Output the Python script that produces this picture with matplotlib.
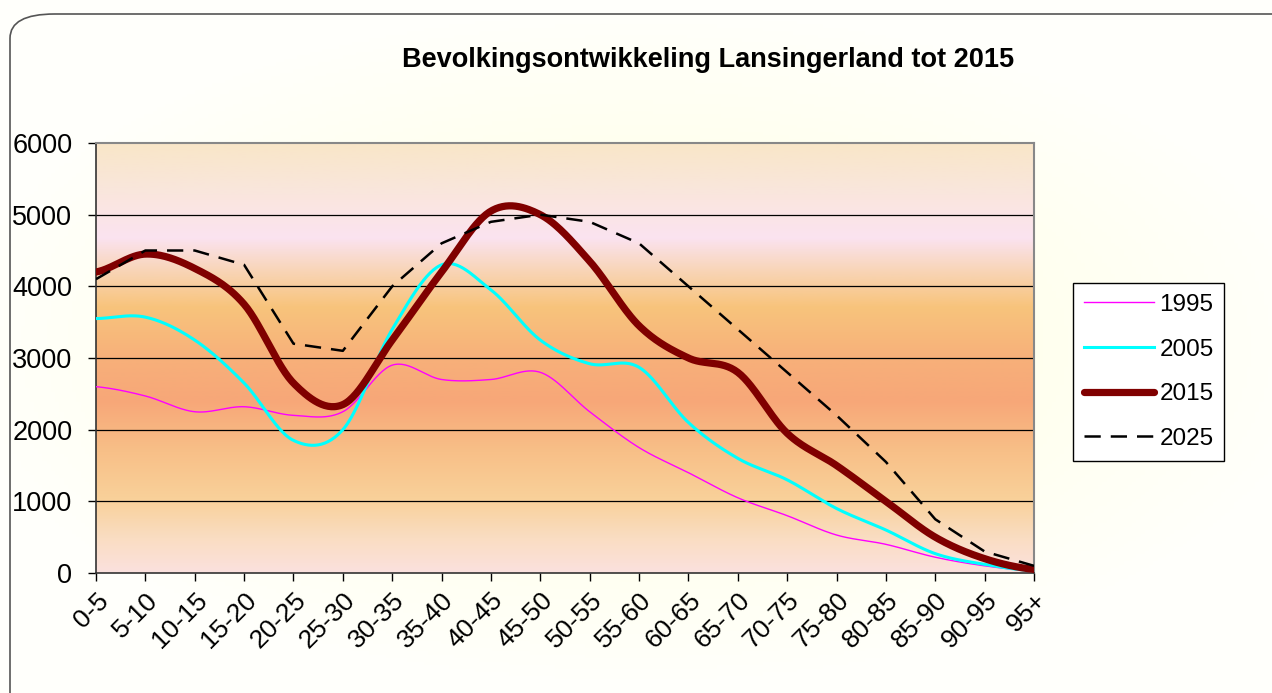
import matplotlib
matplotlib.use("Agg")
import matplotlib.pyplot as plt
from matplotlib.colors import LinearSegmentedColormap
from matplotlib.patches import FancyBboxPatch
import numpy as np

# -- Data -------------------------------------------------------------------
age_groups = ["0-5", "5-10", "10-15", "15-20", "20-25", "25-30", "30-35",
              "35-40", "40-45", "45-50", "50-55", "55-60", "60-65", "65-70",
              "70-75", "75-80", "80-85", "85-90", "90-95", "95+"]

pop_1995 = [2600, 2470, 2250, 2320, 2200, 2250, 2900, 2700, 2700, 2800,
            2250, 1750, 1400, 1050, 800, 530, 400, 220, 100, 30]
pop_2005 = [3550, 3570, 3250, 2650, 1850, 2000, 3400, 4300, 3950, 3250,
            2920, 2870, 2100, 1600, 1300, 900, 600, 270, 120, 30]
pop_2015 = [4200, 4450, 4250, 3750, 2650, 2350, 3250, 4200, 5050, 5000,
            4350, 3450, 3000, 2800, 1950, 1500, 1000, 500, 200, 50]
pop_2025 = [4100, 4500, 4500, 4300, 3200, 3100, 4000, 4600, 4900, 5000,
            4900, 4600, 4000, 3400, 2800, 2200, 1550, 750, 300, 100]

y_ticks = [0, 1000, 2000, 3000, 4000, 5000, 6000]

# -- Colours ----------------------------------------------------------------
MAGENTA = "#FF00FF"
CYAN = "#00FFFF"
DARK_RED = "#800000"
BLACK = "#000000"

plt.rcParams["font.family"] = ["Liberation Sans", "DejaVu Sans"]


def smooth(values, n=30):
    """Catmull-Rom spline through the points (Excel style smoothed line)."""
    y = np.asarray(values, dtype=float)
    x = np.arange(len(y), dtype=float)
    px = np.concatenate([[2 * x[0] - x[1]], x, [2 * x[-1] - x[-2]]])
    py = np.concatenate([[y[0]], y, [y[-1]]])
    xs, ys = [], []
    t = np.linspace(0, 1, n, endpoint=False)
    for i in range(1, len(px) - 2):
        for arr, out in ((px, xs), (py, ys)):
            p0, p1, p2, p3 = arr[i - 1], arr[i], arr[i + 1], arr[i + 2]
            out.extend(0.5 * ((2 * p1) + (-p0 + p2) * t
                              + (2 * p0 - 5 * p1 + 4 * p2 - p3) * t ** 2
                              + (-p0 + 3 * p1 - 3 * p2 + p3) * t ** 3))
    xs.append(x[-1])
    ys.append(y[-1])
    return np.array(xs), np.array(ys)


fig = plt.figure(figsize=(12.72, 6.93), dpi=100)
fig.patch.set_facecolor("white")

# -- Figure background: soft yellow glow -----------------------------------
bg = fig.add_axes([0, 0, 1, 1], zorder=-10)
gx, gy = np.meshgrid(np.linspace(-1, 1, 300), np.linspace(-1, 1, 200))
r = np.clip(np.sqrt((gx * 0.9) ** 2 + (gy * 1.0) ** 2), 0, 1)
bg_cmap = LinearSegmentedColormap.from_list("bg", ["#FFFFE6", "#FFFFEE", "#FFFFFF"])
bg.imshow(r, cmap=bg_cmap, aspect="auto", extent=[0, 1, 0, 1], vmin=0, vmax=1.1)
bg.set_xlim(0, 1)
bg.set_ylim(0, 1)
bg.axis("off")

border = FancyBboxPatch((10 / 1272, -0.1), 1.2, 1 - 14 / 693 + 0.1,
                        boxstyle="round,pad=0,rounding_size=0.035",
                        transform=fig.transFigure, facecolor="none",
                        edgecolor="#555555", linewidth=1.2, zorder=5)
fig.patches.append(border)

# -- Main axes --------------------------------------------------------------
ax = fig.add_axes([96 / 1272, 1 - 573 / 693, (1034 - 96) / 1272, (573 - 143) / 693])

plot_cmap = LinearSegmentedColormap.from_list("plotbg", [
    (0.00, "#FBE1DE"),
    (0.08, "#FADDC2"),
    (0.17, "#F9D19A"),
    (0.28, "#F8C088"),
    (0.40, "#F7A778"),
    (0.50, "#F7B07A"),
    (0.62, "#F8C47C"),
    (0.70, "#F8D4B4"),
    (0.78, "#FBE3F0"),
    (0.88, "#FAE6DE"),
    (1.00, "#F9E6C8"),
])
grad = np.linspace(0, 1, 256).reshape(-1, 1)
ax.imshow(grad, cmap=plot_cmap, aspect="auto", origin="lower",
          extent=[0, 1, 0, 1], transform=ax.transAxes, zorder=0)

for yv in y_ticks[1:-1]:
    ax.axhline(yv, color="black", linewidth=0.9, zorder=1)

x = np.arange(len(age_groups))
sx, sy = smooth(pop_1995)
ax.plot(sx, sy, color=MAGENTA, linewidth=1.0, label="1995", zorder=3)
sx, sy = smooth(pop_2005)
ax.plot(sx, sy, color=CYAN, linewidth=2.2, label="2005", zorder=3)
sx, sy = smooth(pop_2015)
ax.plot(sx, sy, color=DARK_RED, linewidth=5.2, label="2015", zorder=4,
        solid_capstyle="round")
ax.plot(x, pop_2025, color=BLACK, linewidth=1.8, dashes=(6.5, 4),
        label="2025", zorder=5)

ax.set_xlim(0, len(age_groups) - 1)
ax.set_ylim(0, 6000)
ax.set_yticks(y_ticks)
ax.set_yticklabels([str(v) for v in y_ticks], fontsize=19.5)
ax.set_xticks(x)
ax.set_xticklabels(age_groups, fontsize=19, rotation=45, ha="right",
                   va="top", rotation_mode="anchor")
ax.tick_params(axis="y", direction="out", length=6, width=1, pad=11)
ax.tick_params(axis="x", direction="out", length=6, width=1, pad=5)

for side in ("top", "right"):
    ax.spines[side].set_color("#888888")
    ax.spines[side].set_linewidth(1.5)
for side in ("left", "bottom"):
    ax.spines[side].set_color("#333333")
    ax.spines[side].set_linewidth(1.2)

fig.text(708 / 1272, 1 - 60 / 693, "Bevolkingsontwikkeling Lansingerland tot 2015",
         ha="center", va="center", fontsize=19.5, fontweight="bold")

leg = ax.legend(loc="upper left", bbox_to_anchor=(1073 / 1272, 1 - 283 / 693),
                bbox_transform=fig.transFigure, fontsize=17.5, frameon=True,
                fancybox=False, edgecolor="black", framealpha=1,
                handlelength=2.9, handletextpad=0.2, labelspacing=0.93,
                borderpad=0.45, borderaxespad=0)
leg.get_frame().set_linewidth(1.0)

fig.savefig("out.png", dpi=100)
